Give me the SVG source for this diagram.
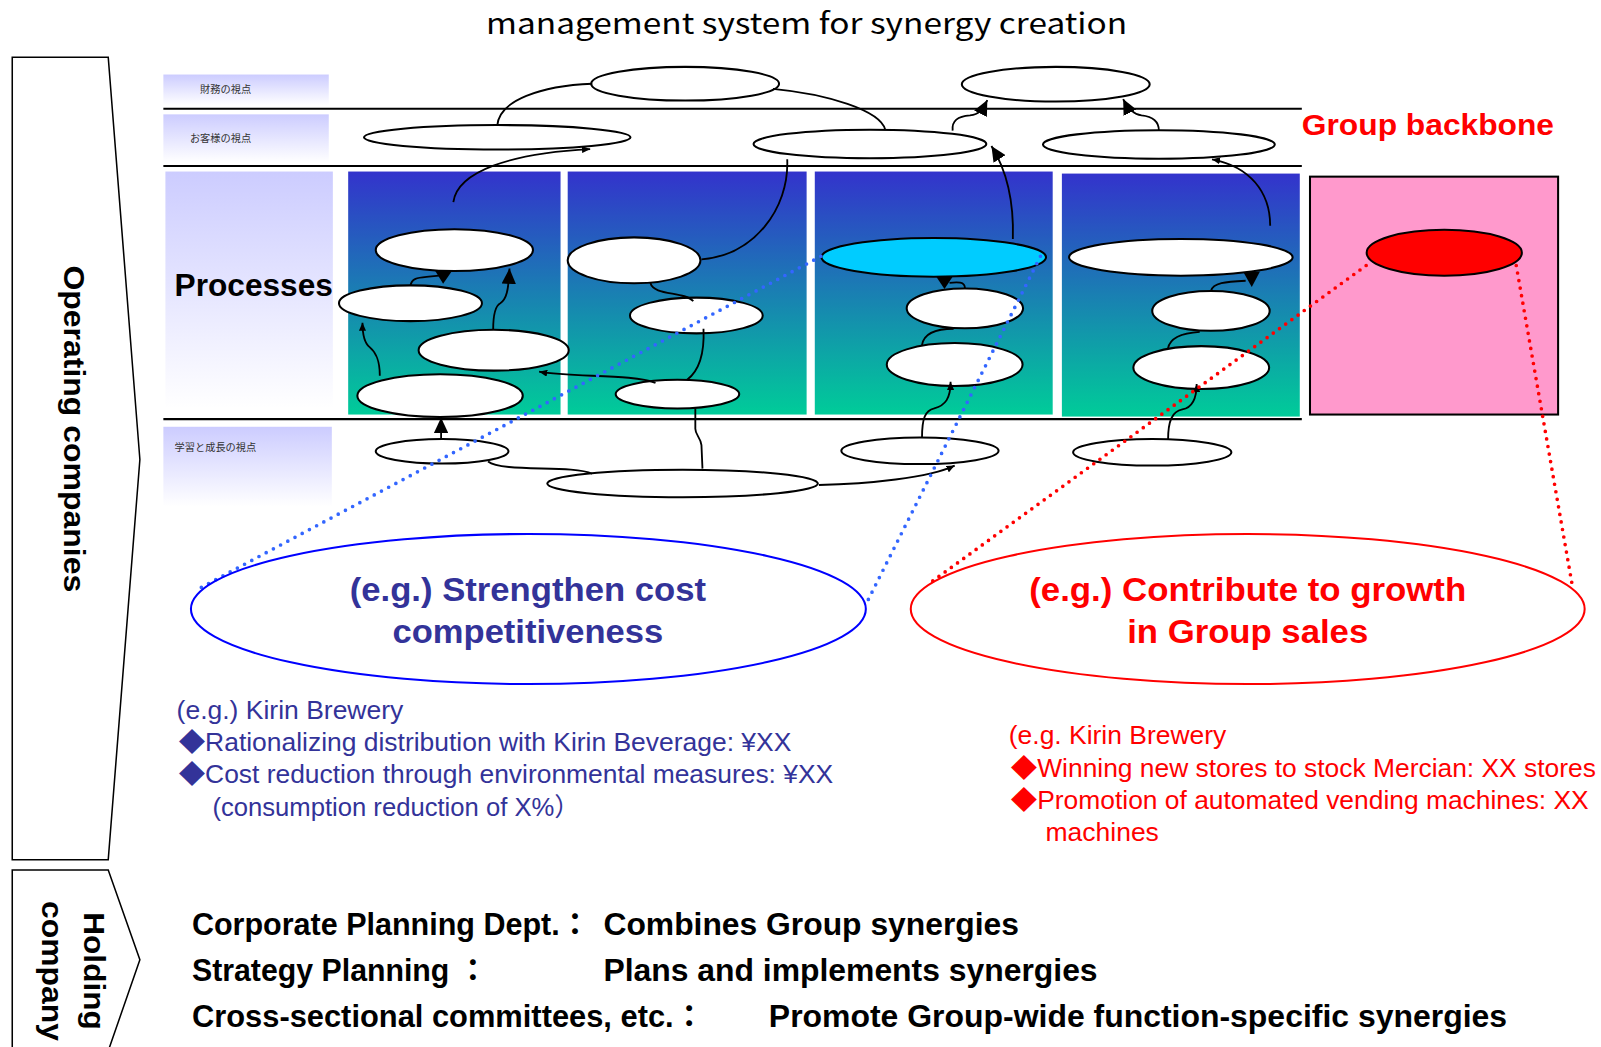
<svg xmlns="http://www.w3.org/2000/svg" width="1601" height="1047" viewBox="0 0 1601 1047">
<defs>
<linearGradient id="gPanel" x1="0" y1="0" x2="0" y2="1"><stop offset="0" stop-color="#3333cc"/><stop offset="1" stop-color="#00cc99"/></linearGradient>
<linearGradient id="gLabel" x1="0" y1="0" x2="0" y2="1"><stop offset="0" stop-color="#ccccff"/><stop offset="1" stop-color="#ffffff"/></linearGradient>
<marker id="big" markerUnits="userSpaceOnUse" markerWidth="15" markerHeight="14" viewBox="0 0 15 14" refX="15" refY="7" orient="auto"><path d="M0,0 L15,7 L0,14 z" fill="#000"/></marker>
<marker id="small" markerUnits="userSpaceOnUse" markerWidth="8" markerHeight="7" viewBox="0 0 8 7" refX="8" refY="3.5" orient="auto"><path d="M0,0 L8,3.5 L0,7 z" fill="#000"/></marker>
</defs>
<style>
.lbl{fill:url(#gLabel)}
.panel{fill:url(#gPanel)}
.node{fill:#fff;stroke:#000;stroke-width:2}
.rule{stroke:#000;stroke-width:2}
.conn{fill:none;stroke:#000;stroke-width:1.8}
.head{fill:#000}
.dotb{fill:none;stroke:#3366ff;stroke-width:3.6;stroke-linecap:round;stroke-dasharray:0 8}
.dotr{fill:none;stroke:#ff0000;stroke-width:3.6;stroke-linecap:round;stroke-dasharray:0 7.5}
.jp{font-family:"Noto Sans CJK JP","Noto Sans",sans-serif;font-size:10px;fill:#333}
.b{font-family:"Liberation Sans",Arial,"Noto Sans CJK JP",sans-serif;font-weight:bold}
.r{font-family:"Liberation Sans",Arial,"Noto Sans CJK JP",sans-serif}
</style>
<rect width="1601" height="1047" fill="#fff"/>
<g transform="scale(1.02104)">
<text id="title" x="790" y="33" font-family="'Noto Sans CJK JP','Noto Sans',sans-serif" font-size="28" text-anchor="middle" textLength="628" lengthAdjust="spacingAndGlyphs">management system for synergy creation</text>

<g id="operating">
<polygon points="12,56 106,56 137,450 106,842 12,842" fill="#fff" stroke="#000" stroke-width="1.5"/>
<text class="b" transform="translate(63,420) rotate(90)" font-size="29" text-anchor="middle" textLength="320" lengthAdjust="spacingAndGlyphs">Operating companies</text>
</g>
<g id="holding">
<polyline points="12,1040 12,852 106,852 137,940 104,1035" fill="#fff" stroke="#000" stroke-width="1.5"/>
<text class="b" transform="translate(82,951) rotate(90)" font-size="28" text-anchor="middle" textLength="115" lengthAdjust="spacingAndGlyphs">Holding</text>
<text class="b" transform="translate(41,951) rotate(90)" font-size="28" text-anchor="middle" textLength="137" lengthAdjust="spacingAndGlyphs">company</text>
</g>

<g id="labels">
<rect class="lbl" x="160" y="73" width="162" height="30"/>
<text class="jp" x="196" y="91">財務の視点</text>
<rect class="lbl" x="160" y="112" width="162" height="47"/>
<text class="jp" x="186" y="139">お客様の視点</text>
<rect class="lbl" x="162" y="168" width="164" height="232"/>
<text class="b" x="171" y="290" font-size="31" textLength="155" lengthAdjust="spacingAndGlyphs">Processes</text>
<rect class="lbl" x="160" y="418" width="165" height="78"/>
<text class="jp" x="171" y="442">学習と成長の視点</text>
</g>

<g id="rules">
<line class="rule" x1="160" y1="106.5" x2="1275" y2="106.5"/>
<line class="rule" x1="160" y1="162.5" x2="1275" y2="162.5"/>
<line class="rule" x1="160" y1="410.5" x2="1275" y2="410.5"/>
</g>

<g id="panels">
<rect class="panel" x="341" y="168" width="208" height="238"/>
<rect class="panel" x="556" y="168" width="234" height="238"/>
<rect class="panel" x="798" y="168" width="233" height="238"/>
<rect class="panel" x="1040" y="170" width="233" height="238"/>
</g>

<g id="group-backbone">
<text class="b" x="1275" y="132" font-size="29" fill="#ff0000" textLength="247" lengthAdjust="spacingAndGlyphs">Group backbone</text>
<rect x="1283" y="173" width="243" height="233" fill="#ff99cc" stroke="#000" stroke-width="2"/>
<ellipse id="n-red" cx="1414.5" cy="247.5" rx="76" ry="22.5" fill="#ff0000" stroke="#000" stroke-width="2"/>
</g>

<g id="nodes">
<ellipse id="n-f1" class="node" cx="671" cy="82" rx="92" ry="16.5"/>
<ellipse id="n-f2" class="node" cx="1034" cy="82.5" rx="92" ry="17"/>
<ellipse id="n-c1" class="node" cx="487" cy="134.5" rx="130.5" ry="12"/>
<ellipse id="n-c2" class="node" cx="852" cy="141" rx="114" ry="14"/>
<ellipse id="n-c3" class="node" cx="1135" cy="141.5" rx="113.5" ry="14"/>
<ellipse id="n-a" class="node" cx="445" cy="245" rx="77" ry="20.5"/>
<ellipse id="n-b" class="node" cx="402" cy="297" rx="70" ry="17.5"/>
<ellipse id="n-c" class="node" cx="483.5" cy="343" rx="73.5" ry="20"/>
<ellipse id="n-d" class="node" cx="431" cy="387.5" rx="81" ry="21"/>
<ellipse id="n-e" class="node" cx="621" cy="255" rx="65" ry="22.5"/>
<ellipse id="n-f" class="node" cx="682" cy="309" rx="65" ry="17.5"/>
<ellipse id="n-g" class="node" cx="663.5" cy="386" rx="60.5" ry="14"/>
<ellipse id="n-h" cx="914.5" cy="252" rx="110" ry="19" fill="#00ccff" stroke="#000" stroke-width="2"/>
<ellipse id="n-i" class="node" cx="945" cy="302" rx="57" ry="19.5"/>
<ellipse id="n-j" class="node" cx="935" cy="357" rx="66.5" ry="21"/>
<ellipse id="n-k" class="node" cx="1156.5" cy="252" rx="109.5" ry="18"/>
<ellipse id="n-l" class="node" cx="1186" cy="304.5" rx="57.5" ry="19.5"/>
<ellipse id="n-m" class="node" cx="1176.5" cy="360" rx="66.5" ry="21"/>
<ellipse id="n-n" class="node" cx="433" cy="442" rx="65" ry="12"/>
<ellipse id="n-o" class="node" cx="668.5" cy="473.5" rx="132.5" ry="13.5"/>
<ellipse id="n-p" class="node" cx="901" cy="441.5" rx="77" ry="13"/>
<ellipse id="n-q" class="node" cx="1128.5" cy="443" rx="77.5" ry="13"/>
</g>

<g id="connectors">
<path class="conn" d="M487,123 C489,98 530,84 580,82"/>
<path class="conn" d="M757,87 C810,92 862,108 867,127"/>
<path class="conn" d="M444,198 C448,168 500,150 578,146" marker-end="url(#small)"/>
<path class="conn" d="M771,156 C773,205 738,250 687,254"/>
<path class="conn" d="M992,234 C993,200 988,170 971,143" marker-end="url(#big)"/>
<path class="conn" d="M933,128 C932,118 938,114 950,113 C959,112 962,108 967,98" marker-end="url(#big)"/>
<path class="conn" d="M1135,128 C1135,118 1128,114 1118,113 C1110,112 1105,107 1100,97" marker-end="url(#big)"/>
<path class="conn" d="M1244,221 C1244,188 1224,163 1187,156" marker-end="url(#small)"/>
<path class="conn" d="M402,280 C403,272 410,272 420,271 L430,270"/>
<polygon class="head" points="426,265 443,265 434,278"/>
<path class="conn" d="M483,323 C483,306 486,299 490,297 C496,293 498,285 499,263" marker-end="url(#big)"/>
<path class="conn" d="M372,368 C372,352 368,345 362,340 C356,335 355,325 355,316" marker-end="url(#small)"/>
<path class="conn" d="M432,430 L432,409" marker-end="url(#big)"/>
<path class="conn" d="M478,452 C492,463 560,455 580,464"/>
<path class="conn" d="M642,375 C620,366 560,370 528,364" marker-end="url(#small)"/>
<path class="conn" d="M637,277 C640,290 670,285 679,295"/>
<path class="conn" d="M689,322 C690,345 686,362 673,372"/>
<path class="conn" d="M681,400 L681,420 C681,426 686,428 687,436 L688,459"/>
<path class="conn" d="M802,475 C850,474 910,468 935,456" marker-end="url(#small)"/>
<path class="conn" d="M903,429 C903,410 906,402 915,400 C926,397 931,390 931,374" marker-end="url(#small)"/>
<path class="conn" d="M1144,431 C1144,412 1148,403 1158,401 C1168,399 1172,390 1172,376" marker-end="url(#small)"/>
<path class="conn" d="M903,338 C905,325 920,322 934,322"/>
<path class="conn" d="M1144,341 C1146,330 1160,326 1175,325"/>
<path class="conn" d="M945,282 C945,276 938,276 930,277"/>
<polygon class="head" points="917,271 933,271 925,283"/>
<path class="conn" d="M1186,285 C1188,277 1200,276 1220,275"/>
<polygon class="head" points="1218,267 1234,266 1226,281"/>
</g>

<g id="dotted-links">
<path class="dotb" d="M804,251 L192,578"/>
<path class="dotb" d="M1019,251 L848,592"/>
<path class="dotr" d="M1338,260 L908,573"/>
<path class="dotr" d="M1485,260 L1540,574"/>
</g>

<g id="cost-goal">
<ellipse cx="517.5" cy="596.5" rx="330.5" ry="73.5" fill="none" stroke="#0000ff" stroke-width="2"/>
<text class="b" x="517" y="589" font-size="32" fill="#333399" text-anchor="middle" textLength="349" lengthAdjust="spacingAndGlyphs">(e.g.) Strengthen cost</text>
<text class="b" x="517" y="630" font-size="32" fill="#333399" text-anchor="middle" textLength="265" lengthAdjust="spacingAndGlyphs">competitiveness</text>
</g>
<g id="sales-goal">
<ellipse cx="1222" cy="596.5" rx="330" ry="73.5" fill="none" stroke="#ff0000" stroke-width="2"/>
<text class="b" x="1222" y="589" font-size="32" fill="#ff0000" text-anchor="middle" textLength="428" lengthAdjust="spacingAndGlyphs">(e.g.) Contribute to growth</text>
<text class="b" x="1222" y="630" font-size="32" fill="#ff0000" text-anchor="middle" textLength="236" lengthAdjust="spacingAndGlyphs">in Group sales</text>
</g>

<g id="cost-examples" fill="#333399" font-size="25">
<text class="r" x="173" y="704" textLength="222" lengthAdjust="spacingAndGlyphs">(e.g.) Kirin Brewery</text>
<text class="r" x="175" y="736" textLength="600" lengthAdjust="spacingAndGlyphs">◆Rationalizing distribution with Kirin Beverage: ¥XX</text>
<text class="r" x="175" y="767" textLength="641" lengthAdjust="spacingAndGlyphs">◆Cost reduction through environmental measures: ¥XX</text>
<text class="r" x="208" y="799" textLength="360" lengthAdjust="spacingAndGlyphs">(consumption reduction of X%）</text>
</g>
<g id="sales-examples" fill="#ff0000" font-size="25">
<text class="r" x="988" y="729" textLength="213" lengthAdjust="spacingAndGlyphs">(e.g. Kirin Brewery</text>
<text class="r" x="990" y="761" textLength="573" lengthAdjust="spacingAndGlyphs">◆Winning new stores to stock Mercian: XX stores</text>
<text class="r" x="990" y="792" textLength="566" lengthAdjust="spacingAndGlyphs">◆Promotion of automated vending machines: XX</text>
<text class="r" x="1024" y="824" textLength="111" lengthAdjust="spacingAndGlyphs">machines</text>
</g>

<g id="holding-roles" fill="#000" font-size="30">
<text class="b" x="188" y="916" textLength="390" lengthAdjust="spacingAndGlyphs">Corporate Planning Dept.：</text>
<text class="b" x="591" y="916" textLength="407" lengthAdjust="spacingAndGlyphs">Combines Group synergies</text>
<text class="b" x="188" y="961" textLength="290" lengthAdjust="spacingAndGlyphs">Strategy Planning ：</text>
<text class="b" x="591" y="961" textLength="484" lengthAdjust="spacingAndGlyphs">Plans and implements synergies</text>
<text class="b" x="188" y="1006" textLength="502" lengthAdjust="spacingAndGlyphs">Cross-sectional committees, etc.：</text>
<text class="b" x="753" y="1006" textLength="723" lengthAdjust="spacingAndGlyphs">Promote Group-wide function-specific synergies</text>
</g>
</g>
</svg>
